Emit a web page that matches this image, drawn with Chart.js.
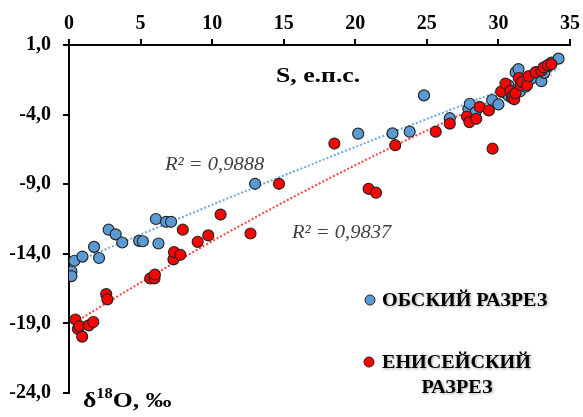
<!DOCTYPE html>
<html>
<head>
<meta charset="utf-8">
<script src="https://cdn.jsdelivr.net/npm/chart.js@4/dist/chart.umd.min.js"></script>
<style>
  html, body { margin: 0; padding: 0; background: #fff; }
  #wrap { width: 583px; height: 417px; position: relative; }
</style>
</head>
<body>
<div id="wrap"><canvas id="grafico"></canvas></div>
<script>
// Обский разрез: соленость (S) и δ18O
const obS = [0.17, 0.17, 0.38, 0.94, 1.75, 2.1, 2.77, 3.26, 3.72, 4.9, 5.16, 6.07, 6.25, 6.78, 7.13,
  13.0, 20.2, 22.6, 23.8, 24.8, 26.6, 27.9, 28.0, 28.4, 29.56, 30.0, 30.3, 30.5, 30.7, 30.95,
  31.2, 31.4, 31.5, 30.7, 31.9, 32.3, 32.6, 33.0, 33.2, 33.5, 33.7, 34.2];
const obO = [-15.26, -15.6, -14.5, -14.2, -13.5, -14.3, -12.27, -12.6, -13.19, -13.07, -13.1, -11.5, -13.26, -11.7, -11.7,
  -8.97, -5.37, -5.35, -5.23, -2.62, -4.26, -3.6, -3.22, -3.84, -2.95, -3.27, -2.34, -2.46, -2.65, -2.8,
  -0.96, -0.73, -2.34, -1.89, -2.0, -1.42, -0.96, -1.6, -1.0, -0.5, -0.27, 0.02];

// Енисейский разрез
const enS = [0.45, 0.62, 0.73, 0.92, 1.38, 1.7, 2.6, 2.68, 5.67, 5.97, 6.0, 7.3, 7.34, 7.78, 7.95, 8.99, 9.73, 10.59, 12.68,
  14.67, 18.54, 20.93, 21.45, 22.79, 25.62, 26.6, 27.8, 27.97, 28.45, 28.69, 29.33, 29.59, 30.19, 30.49, 30.84, 31.0,
  31.1, 31.19, 31.42, 31.54, 31.65, 32.0, 32.11, 32.6, 33.0, 33.16, 33.45, 33.7];
const enO = [-18.72, -19.4, -19.19, -19.95, -19.14, -18.9, -16.9, -17.27, -15.77, -15.77, -15.5, -14.4, -13.88, -14.07, -12.27, -13.14, -12.68, -11.18, -12.54,
  -8.97, -6.08, -9.33, -9.61, -6.2, -5.23, -4.65, -4.14, -4.54, -4.3, -3.45, -3.7, -6.45, -2.34, -1.77, -2.3, -2.69,
  -2.9, -2.46, -1.37, -1.89, -1.65, -1.89, -1.24, -0.96, -0.85, -0.61, -0.45, -0.38];

const xTicks = [0, 5, 10, 15, 20, 25, 30, 35];
const yTicks = [1, -4, -9, -14, -19, -24];
const r2Labels = ['R² = 0,9888', 'R² = 0,9837'];
const seriesNames = ['ОБСКИЙ РАЗРЕЗ', 'ЕНИСЕЙСКИЙ РАЗРЕЗ'];

const BLUE = '#5B9BD5';
const RED = '#FF0000';

function toPoints(xs, ys) {
  return xs.map((x, i) => ({ x: x, y: ys[i] }));
}

// полиномиальный тренд 2-й степени (МНК), как в Excel
function polyTrend(xs, ys) {
  let s = [0, 0, 0, 0, 0], t = [0, 0, 0];
  xs.forEach((x, i) => {
    let p = 1;
    for (let k = 0; k < 5; k++) { s[k] += p; if (k < 3) t[k] += p * ys[i]; p *= x; }
  });
  const m = [[s[0], s[1], s[2], t[0]], [s[1], s[2], s[3], t[1]], [s[2], s[3], s[4], t[2]]];
  for (let c = 0; c < 3; c++) {
    for (let r = c + 1; r < 3; r++) {
      const f = m[r][c] / m[c][c];
      for (let k = c; k < 4; k++) m[r][k] -= f * m[c][k];
    }
  }
  const a = [0, 0, 0];
  for (let r = 2; r >= 0; r--) {
    let v = m[r][3];
    for (let k = r + 1; k < 3; k++) v -= m[r][k] * a[k];
    a[r] = v / m[r][r];
  }
  const x0 = Math.min(...xs), x1 = Math.max(...xs);
  const pts = [];
  for (let i = 0; i <= 60; i++) {
    const x = x0 + (x1 - x0) * i / 60;
    pts.push({ x: x, y: a[0] + a[1] * x + a[2] * x * x });
  }
  return pts;
}

const fmt = v => v.toFixed(1).replace('.', ',');

// текст с небольшим растяжением по горизонтали (как в оригинале)
function wideText(ctx, text, x, y, sx) {
  ctx.save();
  ctx.translate(x, y);
  ctx.scale(sx, 1);
  ctx.fillText(text, 0, 0);
  const w = ctx.measureText(text).width * sx;
  ctx.restore();
  return w;
}

// подписи, легенда и заголовки осей
const annotations = {
  id: 'annotations',
  afterDraw(chart) {
    const ctx = chart.ctx;
    ctx.save();
    ctx.fillStyle = '#000';
    ctx.textBaseline = 'middle';
    ctx.textAlign = 'left';

    ctx.font = 'bold 22px "Liberation Serif"';
    wideText(ctx, 'S, е.п.с.', 276, 76, 1.17);

    // δ18O, ‰
    let x = 83;
    x += wideText(ctx, 'δ', x, 401, 1.17);
    ctx.font = 'bold 14px "Liberation Serif"';
    x += wideText(ctx, '18', x, 394, 1.17);
    ctx.font = 'bold 22px "Liberation Serif"';
    wideText(ctx, 'O, ‰', x, 401, 1.17);

    ctx.font = 'italic 19px "Liberation Serif"';
    ctx.fillStyle = '#404040';
    wideText(ctx, r2Labels[0], 165, 165, 1.08);
    wideText(ctx, r2Labels[1], 292, 233, 1.08);

    // легенда
    const dots = [[370, 300, BLUE], [369, 362, RED]];
    dots.forEach(d => {
      ctx.beginPath();
      ctx.arc(d[0], d[1], 5, 0, Math.PI * 2);
      ctx.fillStyle = d[2];
      ctx.fill();
      ctx.lineWidth = 1;
      ctx.strokeStyle = '#222';
      ctx.stroke();
    });
    ctx.fillStyle = '#000';
    ctx.font = 'bold 19px "Liberation Serif"';
    ctx.shadowColor = 'rgba(0,0,0,0.35)';
    ctx.shadowBlur = 3;
    ctx.shadowOffsetX = 1;
    ctx.shadowOffsetY = 1;
    wideText(ctx, seriesNames[0], 382, 301, 1.06);
    const parts = seriesNames[1].split(' ');
    wideText(ctx, parts[0], 382, 363, 1.06);
    const w2 = ctx.measureText(parts[1]).width * 1.06;
    wideText(ctx, parts[1], 457 - w2 / 2, 388, 1.06);
    ctx.restore();
  }
};

const scatterDs = (data, color) => ({
  type: 'scatter',
  data: data,
  backgroundColor: color,
  borderColor: '#262626',
  borderWidth: 1.2,
  pointRadius: 5.5,
  order: 1
});

const trendDs = (data, color) => ({
  type: 'line',
  data: data,
  borderColor: color,
  borderWidth: 2,
  borderDash: [2, 2],
  pointRadius: 0,
  fill: false,
  tension: 0,
  order: 2
});

new Chart(document.getElementById('grafico'), {
  type: 'scatter',
  data: {
    datasets: [
      scatterDs(toPoints(enS, enO), RED),
      scatterDs(toPoints(obS, obO), BLUE),
      trendDs(polyTrend(obS, obO), '#6FA8DC'),
      trendDs(polyTrend(enS, enO), '#FF4040')
    ]
  },
  options: {
    responsive: true,
    maintainAspectRatio: false,
    animation: false,
    layout: { padding: { left: 0, top: 0, right: 11, bottom: 11 } },
    plugins: {
      legend: { display: false },
      tooltip: { enabled: false }
    },
    scales: {
      x: {
        type: 'linear',
        position: 'top',
        min: 0,
        max: 35,
        afterBuildTicks: s => { s.ticks = xTicks.map(v => ({ value: v })); },
        afterFit: s => { s.height = 45; },
        grid: { drawOnChartArea: false, drawTicks: true, tickLength: 6, color: '#000', lineWidth: 2 },
        border: { display: true, color: '#000', width: 2 },
        ticks: {
          color: '#000',
          padding: 3,
          maxRotation: 0,
          font: { family: 'Liberation Serif', size: 20, weight: 'bold' }
        }
      },
      y: {
        type: 'linear',
        min: -24,
        max: 1,
        afterBuildTicks: s => { s.ticks = yTicks.map(v => ({ value: v })); },
        afterFit: s => { s.width = 69; },
        grid: { drawOnChartArea: false, drawTicks: true, tickLength: 6, color: '#000', lineWidth: 2 },
        border: { display: true, color: '#000', width: 2 },
        ticks: {
          color: '#000',
          padding: 12,
          callback: v => fmt(v),
          font: { family: 'Liberation Serif', size: 20, weight: 'bold' }
        }
      }
    }
  },
  plugins: [annotations]
});
</script>
</body>
</html>
